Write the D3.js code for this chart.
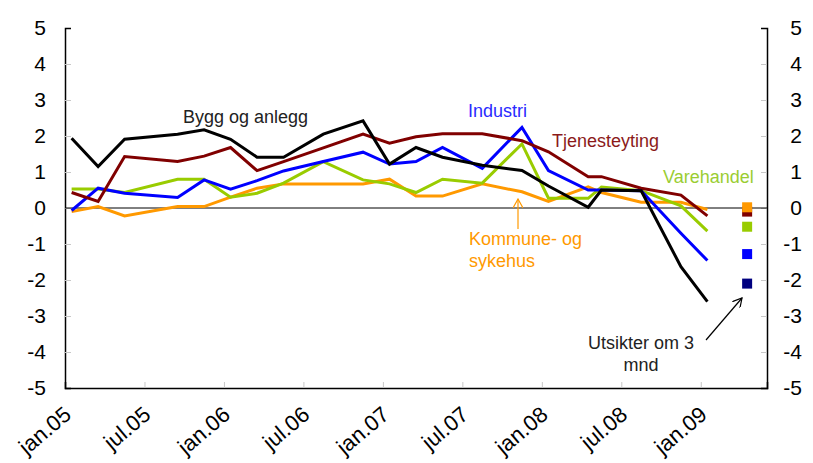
<!DOCTYPE html>
<html><head><meta charset="utf-8">
<script src="https://cdn.jsdelivr.net/npm/d3@7"></script>
<style>body{margin:0;background:#fff}svg{display:block}text{font-family:"Liberation Sans",Arial,sans-serif}</style>
</head><body><svg id="c" width="813" height="463"></svg>
<script>
const months = ["2005-01","2005-03","2005-05","2005-09","2005-11","2006-01","2006-03","2006-05","2006-08","2006-11","2007-01","2007-03","2007-05","2007-08","2007-11","2008-01","2008-04","2008-05","2008-08","2008-11","2009-01"];
const bygg = [1.94,1.15,1.91,2.05,2.17,1.91,1.41,1.41,2.05,2.42,1.22,1.68,1.41,1.19,1.04,0.61,0.02,0.50,0.48,-1.63,-2.60];
const tjeneste = [0.43,0.18,1.43,1.29,1.44,1.68,1.04,1.29,1.67,2.05,1.80,1.98,2.06,2.06,1.87,1.56,0.87,0.87,0.55,0.36,-0.22];
const industri = [-0.07,0.55,0.41,0.29,0.78,0.52,0.76,1.03,1.29,1.55,1.22,1.29,1.68,1.10,2.24,1.04,0.50,0.50,0.48,-0.70,-1.46];
const varehandel = [0.53,0.53,0.43,0.80,0.80,0.30,0.41,0.69,1.29,0.78,0.67,0.43,0.80,0.69,1.78,0.27,0.27,0.58,0.48,0.06,-0.64];
const kommune = [-0.10,0.04,-0.22,0.04,0.04,0.30,0.55,0.67,0.67,0.67,0.80,0.33,0.33,0.67,0.45,0.18,0.59,0.43,0.16,0.16,-0.04];
const outlookMonth = "2009-04";
const outlookNames = ["Tjenesteyting","Kommune- og sykehus","Varehandel","Industri","Bygg og anlegg"];
const outlookValues = [-0.10,0.02,-0.52,-1.28,-2.10];
const tickLabels = ["jan.05","jul.05","jan.06","jul.06","jan.07","jul.07","jan.08","jul.08","jan.09"];
const yTicks = [5,4,3,2,1,0,-1,-2,-3,-4,-5];

const series = [
  {name:"Kommune- og sykehus", values:kommune, color:"#FF9900"},
  {name:"Varehandel", values:varehandel, color:"#99CC00"},
  {name:"Industri", values:industri, color:"#0000FF"},
  {name:"Tjenesteyting", values:tjeneste, color:"#800000"},
  {name:"Bygg og anlegg", values:bygg, color:"#000000"}
];
const outlookColors = {"Tjenesteyting":"#800000","Kommune- og sykehus":"#FF9900","Varehandel":"#99CC00","Industri":"#0000FF","Bygg og anlegg":"#000080"};

const idx = s => { const [y,m] = s.split("-").map(Number); return (y-2005)*12 + (m-1); };
const svg = d3.select("#c");
const L = 65, R = 767, T = 28, B = 388;
const x = d3.scaleLinear().domain([0,53]).range([L,R]);
const xc = s => x(idx(s)+0.5);
const y = d3.scaleLinear().domain([-5,5]).range([B,T]);
const fmt = d => String(d);

// axes
const yl = svg.append("g").attr("transform",`translate(${L},0)`)
  .call(d3.axisLeft(y).tickValues(yTicks).tickSize(-6).tickPadding(19).tickFormat(fmt));
const yr = svg.append("g").attr("transform",`translate(${R},0)`)
  .call(d3.axisRight(y).tickValues(yTicks).tickSize(-6).tickPadding(35).tickFormat(fmt));
[yl,yr].forEach(g=>{
  g.select(".domain").attr("stroke","#000").attr("stroke-width",1.5);
  g.selectAll(".tick line").attr("stroke","#c8c8c8");
  g.selectAll(".tick text").attr("font-size",21).attr("fill","#000").attr("font-family","Liberation Sans, Arial, sans-serif");
});
yr.selectAll(".tick text").attr("text-anchor","end");
yl.selectAll(".tick").filter(d=>d===5||d===-5).select("line").remove();
yr.selectAll(".tick").filter(d=>d===5||d===-5).select("line").remove();

// bottom axis
const xt = d3.range(0,54,6);
const xa = svg.append("g").attr("transform",`translate(0,${B})`)
  .call(d3.axisBottom(x).tickValues(xt.slice(1)).tickSize(-6).tickFormat(""));
xa.select(".domain").attr("stroke","#000").attr("stroke-width",1.5);
xa.selectAll(".tick line").attr("stroke","#c8c8c8");
svg.append("g").selectAll("text").data(tickLabels).join("text")
  .attr("transform",(d,i)=>`translate(${x(i*6+0.5)+1},${B+29}) rotate(-40)`)
  .attr("text-anchor","end").attr("font-size",22).attr("fill","#000").text(d=>d);

// zero line
svg.append("line").attr("x1",L).attr("x2",R).attr("y1",y(0)).attr("y2",y(0)).attr("stroke","#000").attr("stroke-width",1);

// lines
const line = d3.line().x((d,i)=>xc(months[i])).y(d=>y(d));
svg.append("g").selectAll("path").data(series).join("path")
  .attr("d",d=>line(d.values)).attr("fill","none").attr("stroke",d=>d.color)
  .attr("stroke-width",3).attr("stroke-linejoin","miter");

// outlook squares
const sq = 10;
svg.append("g").selectAll("rect").data(outlookNames).join("rect")
  .attr("x",xc(outlookMonth)-sq/2).attr("y",(d,i)=>y(outlookValues[i])-sq/2)
  .attr("width",sq).attr("height",sq).attr("fill",d=>outlookColors[d]);

// arrows
const defs = svg.append("defs");
[["ao","#FF9900"],["ab","#000"]].forEach(([id,c])=>{
  defs.append("marker").attr("id",id).attr("viewBox","0 0 10 10").attr("refX",9).attr("refY",5)
   .attr("markerWidth",10).attr("markerHeight",10).attr("markerUnits","userSpaceOnUse").attr("orient","auto")
   .append("path").attr("d","M0,0 L9,5 L0,10").attr("fill","none").attr("stroke",c).attr("stroke-width",1.2);
});
svg.append("line").attr("x1",518).attr("y1",229).attr("x2",518).attr("y2",199).attr("stroke","#FF9900").attr("stroke-width",1.2).attr("marker-end","url(#ao)");
svg.append("line").attr("x1",706).attr("y1",340).attr("x2",742).attr("y2",298).attr("stroke","#000").attr("stroke-width",1.2).attr("marker-end","url(#ab)");

// labels
const lab = (t,xx,yy,c,anchor)=>svg.append("text").attr("x",xx).attr("y",yy).attr("font-size",18).attr("fill",c).attr("text-anchor",anchor||"start").text(t);
lab("Bygg og anlegg",183,123,"#222");
lab("Industri",468,117,"#2a2aff");
lab("Tjenesteyting",552,147,"#8b1a1a");
lab("Varehandel",663,183,"#9acd32");
lab("Kommune- og",469,245,"#FF9900");
lab("sykehus",469,267,"#FF9900");
lab("Utsikter om 3",641,349,"#222","middle");
lab("mnd",641,371,"#222","middle");
</script></body></html>
